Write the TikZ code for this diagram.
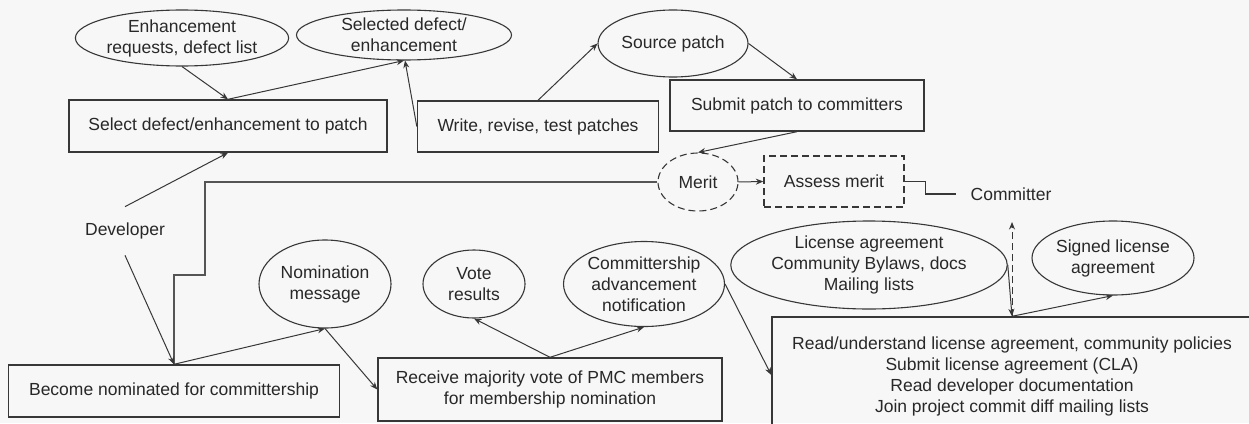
\documentclass[tikz,border=0pt]{standalone}
\usepackage{fontspec}
\setmainfont{Liberation Sans}
\usetikzlibrary{shapes.geometric,arrows.meta}
\definecolor{bgc}{RGB}{247,247,247}
\definecolor{ink}{RGB}{55,55,55}
\definecolor{txt}{RGB}{40,40,40}
\begin{document}
\begin{tikzpicture}[x=1pt,y=-1pt,
  every node/.style={font=\fontsize{17.5}{21}\selectfont, text=txt, align=center},
  box/.style={draw=ink, line width=1.4pt, rectangle, inner sep=0pt},
  oval/.style={draw=ink, line width=1.1pt, ellipse, inner sep=0pt},
  dashbox/.style={box, dashed, dash pattern=on 7pt off 4pt},
  dashoval/.style={oval, dash pattern=on 7pt off 4pt},
  conn/.style={draw=ink, line width=1pt},
  arr/.style={conn, -{Stealth[length=7.5pt,width=6pt]}}]
  % page and background
  \fill[bgc] (0,0) rectangle (1249,423);
  \useasboundingbox (0,0) rectangle (1249,423);
  \clip (0,0) rectangle (1249,423);

  % top row: selecting and writing patches
  \node[oval, minimum width=211, minimum height=56] (enh) at (182,38) {Enhancement\\requests, defect list};
  \node[oval, minimum width=215, minimum height=50] (sd) at (404,35) {Selected defect/\\enhancement};
  \node[box, minimum width=318, minimum height=52] (sel) at (228,126) {Select defect/enhancement to patch};
  \node[box, minimum width=241, minimum height=51] (wr) at (538,126.5) {Write, revise, test patches};
  \node[oval, minimum width=150, minimum height=67] (src) at (673,43.5) {Source patch};
  \node[box, minimum width=254, minimum height=51] (sub) at (797,105.5) {Submit patch to committers};

  % merit assessment
  \node[dashoval, minimum width=80, minimum height=58] (mer) at (698,182) {Merit};
  \node[dashbox, minimum width=140, minimum height=51] (asm) at (834,181.5) {Assess merit};
  \node[inner sep=0pt] (com) at (1011,194) {Committer};

  % roles
  \node[inner xsep=0pt, inner ysep=16pt] (dev) at (125,231) {Developer};

  % nomination row
  \node[box, minimum width=331, minimum height=52] (bec) at (174,391) {Become nominated for committership};
  \node[oval, minimum width=132, minimum height=88] (nom) at (325,284) {Nomination\\message};
  \node[box, minimum width=344, minimum height=63] (rec) at (550,389.5) {Receive majority vote of PMC members\\for membership nomination};
  \node[oval, minimum width=102, minimum height=68] (vot) at (474,284) {Vote\\results};
  \node[oval, minimum width=161, minimum height=85] (cad) at (644,284) {Committership\\advancement\\notification};

  % license and onboarding
  \node[oval, minimum width=252, minimum height=88] (lic) at (869,265) {License agreement\\Community Bylaws, docs\\Mailing lists};
  \node[oval, minimum width=162, minimum height=74] (sig) at (1113,258) {Signed license\\agreement};
  \node[box, minimum width=480, minimum height=116, text depth=0pt] (big) at (1012,375)
    {Read/understand license agreement, community policies\\Submit license agreement (CLA)\\Read developer documentation\\Join project commit diff mailing lists};
  \coordinate (up) at (1012,222);

  % connectors
  \draw[arr] (enh.south) -- (sel.north);
  \draw[arr] (sel.north) -- (sd.south);
  \draw[arr] (wr.west) -- ([xshift=1pt]sd.south);
  \draw[arr] (wr.north) -- (src.west);
  \draw[arr] (src.east) -- (sub.north);
  \draw[arr] (sub.south) -- (mer.north);
  \draw[arr] (mer.east) -- (asm.west);
  \draw[conn, line width=1.3pt] (asm.east) -- ++(21,0) |- ([xshift=-14pt]com.west);
  \draw[conn, line width=1.6pt, draw=ink!85] (mer.west) -| (205,275) -| (bec.north);
  \draw[arr] (dev.north) -- (sel.south);
  \draw[arr] (dev.south) -- (bec.north);
  \draw[arr] (bec.north) -- (nom.south);
  \draw[arr] (nom.south) -- (rec.west);
  \draw[arr] (rec.north) -- (vot.south);
  \draw[arr] (rec.north) -- (cad.south);
  \draw[arr] (cad.east) -- (big.west);
  \draw[arr] (lic.east) -- (big.north);
  \draw[arr] (big.north) -- (sig.south);
  \draw[arr, dashed, dash pattern=on 7pt off 4pt] (big.north) -- (up);
\end{tikzpicture}
\end{document}
